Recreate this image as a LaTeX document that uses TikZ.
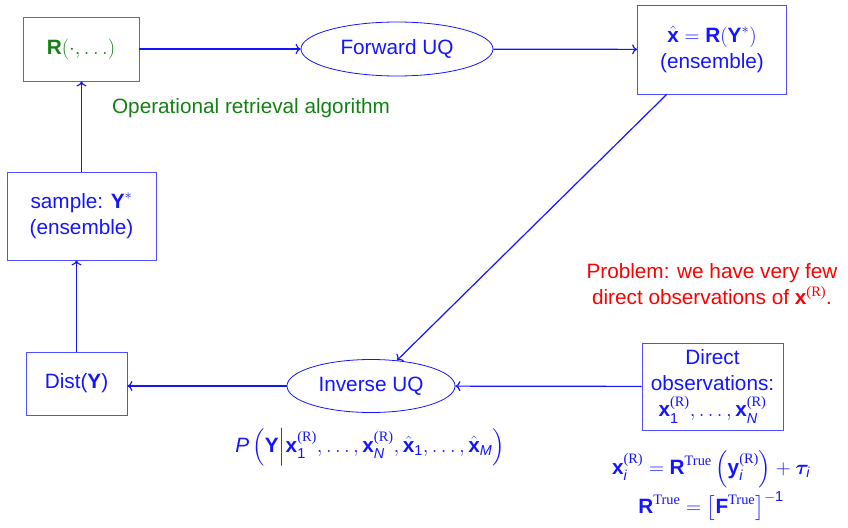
\documentclass[tikz,border=0pt]{standalone}
\usepackage{amsmath,amssymb,bm}
\usepackage{fontspec}
\setmainfont{Liberation Sans}
\newfontfamily\tnr{Liberation Serif}
\usetikzlibrary{shapes.geometric,arrows.meta}
\definecolor{myblue}{RGB}{20,20,255}
\definecolor{mygreen}{RGB}{20,128,20}
\definecolor{myred}{RGB}{255,0,0}
\newcommand{\bx}[1]{\text{\bfseries #1}}
\newcommand{\sit}[1]{\text{\itshape #1}}
\newcommand{\tx}[1]{\text{#1}}
\newcommand{\Rs}{\text{\tnr (R)}}
\newcommand{\Tr}{\text{\tnr True}}
\tikzset{
  bbox/.style={draw=myblue!75, line width=0.8pt, text=myblue, align=center, inner sep=0pt},
  gbox/.style={draw=mygreen!85, line width=0.8pt, text=mygreen, align=center, inner sep=0pt},
  ell/.style={ellipse, draw=myblue, line width=0.8pt, text=myblue, inner sep=0pt},
  arr/.style={draw=myblue, line width=1.2pt, -{To[length=5pt,width=10pt]}},
  lbl/.style={align=center, inner sep=0pt}
}
\begin{document}
\begin{tikzpicture}[x=1pt,y=-1pt]
\fontsize{20.74}{26}\selectfont
\useasboundingbox (0,0) rectangle (848,527);
\node[gbox, minimum width=116, minimum height=64] (R) at (81,49) {$\bx{R}(\cdot,\ldots)$};
\node[ell, minimum width=192, minimum height=54] (F) at (397,49) {Forward UQ};
\node[bbox, minimum width=149, minimum height=89] (X) at (712,49.5) {$\hat{\bx{x}}=\bx{R}(\bx{Y}^*)$\\(ensemble)};
\node[lbl, text=mygreen] (op) at (251,108) {Operational retrieval algorithm};
\node[bbox, minimum width=149, minimum height=88] (S) at (81.5,216) {sample: $\bx{Y}^*$\\(ensemble)};
\node[bbox, minimum width=101, minimum height=63] (D) at (76.5,383.5) {Dist($\bx{Y}$)};
\node[ell, minimum width=168, minimum height=53] (I) at (371,386) {Inverse UQ};
\node[bbox, minimum width=141, minimum height=87] (O) at (712.5,386.5) {Direct\\observations:\\$\bx{x}_{\tx{1}}^{\Rs},\ldots,\bx{x}_{\sit{N}}^{\Rs}$};
\node[lbl, text=myred] (prob) at (712,284) {Problem: we have very few\\direct observations of $\bx{x}^{\Rs}$.};
\node[lbl, text=myblue] (pf) at (370,447) {$\sit{P}\left(\bx{Y}\middle|\bx{x}_{\tx{1}}^{\Rs},\ldots,\bx{x}_{\sit{N}}^{\Rs},\hat{\bx{x}}_{\tx{1}},\ldots,\hat{\bx{x}}_{\sit{M}}\right)$};
\node[lbl, text=myblue] (eq1) at (711,469) {$\bx{x}_{\sit{i}}^{\Rs}=\bx{R}^{\Tr}\left(\bx{y}_{\sit{i}}^{\Rs}\right)+\boldsymbol{\tau}_{\sit{i}}$};
\node[lbl, text=myblue] (eq2) at (711,506) {$\bx{R}^{\Tr}=\left[\bx{F}^{\Tr}\right]^{-\tx{1}}$};
\draw[arr] (R) -- (F);
\draw[arr] (F) -- (X);
\draw[arr] (X) -- (I);
\draw[arr] (O) -- (I);
\draw[arr] (I.west) -- (D.east |- I.west);
\draw[arr] (D.north) -- (D.north |- S.south);
\draw[arr] (S.north) -- (S.north |- R.south);
\end{tikzpicture}
\end{document}
